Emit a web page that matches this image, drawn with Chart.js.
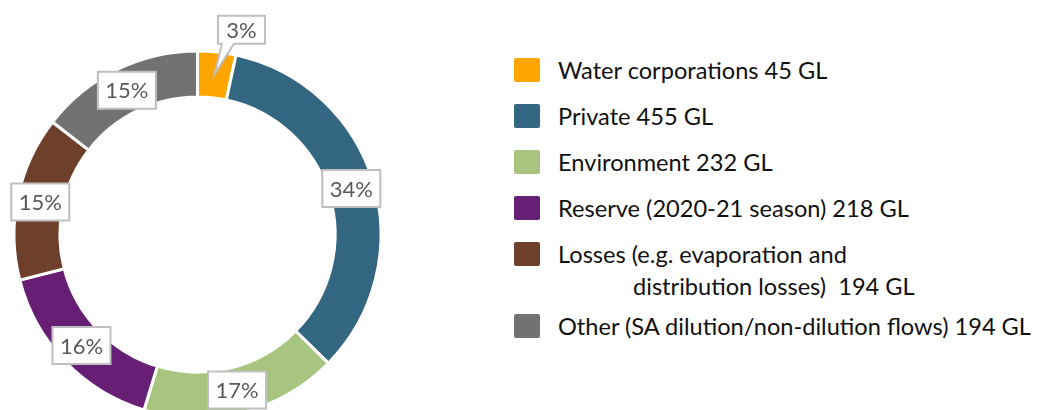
<!DOCTYPE html>
<html>
<head>
<meta charset="utf-8">
<script src="https://cdn.jsdelivr.net/npm/chart.js@4/dist/chart.umd.min.js"></script>
<style>
  html, body { margin: 0; padding: 0; background: #fff; overflow: hidden; width: 1053px; height: 410px; }
  #wrap { position: absolute; left: 0; top: 0; width: 400px; height: 424px; }
  #legend { position: absolute; left: 514px; top: 58px; font-family: Lato, sans-serif; font-size: 23.6px; color: #111; }
  .row { position: relative; height: 46px; }
  .box { position: absolute; left: 0; top: 0; width: 26px; height: 24px; border-radius: 2px; }
  .txt { position: absolute; left: 44px; top: -4px; line-height: 32px; white-space: pre; }
  .indent { padding-left: 75px; }
</style>
</head>
<body>
<div id="wrap"><canvas id="myChart"></canvas></div>
<div id="legend"></div>
<script>
var names = ["Water corporations", "Private", "Environment", "Reserve (2020-21 season)",
  "Losses (e.g. evaporation and\ndistribution losses) ", "Other (SA dilution/non-dilution flows)"];
var volumes = [45, 455, 232, 218, 194, 194];
var pctText = ["3%", "34%", "17%", "16%", "15%", "15%"];
var colours = ["#FFA500", "#336680", "#A9C47F", "#661F75", "#6E3F2A", "#727272"];

var total = volumes.reduce(function (a, b) { return a + b; }, 0);

// legend
var leg = document.getElementById("legend");
for (var i = 0; i < names.length; i++) {
    var lines = (names[i] + " " + volumes[i] + " GL").split("\n");
    var row = document.createElement("div");
    row.className = "row";
    if (lines.length > 1) row.style.height = (46 + 26 * (lines.length - 1)) + "px";
    var sq = document.createElement("div");
    sq.className = "box";
    sq.style.background = colours[i];
    row.appendChild(sq);
    var t = document.createElement("div");
    t.className = "txt";
    for (var j = 0; j < lines.length; j++) {
        var ln = document.createElement("div");
        ln.textContent = lines[j];
        if (j > 0) ln.className = "indent";
        t.appendChild(ln);
    }
    row.appendChild(t);
    leg.appendChild(row);
}

// percentage boxes on the ring
var pctLabels = {
    id: "pctLabels",
    afterDatasetsDraw: function (chart) {
        var ctx = chart.ctx;
        var arcs = chart.getDatasetMeta(0).data;
        ctx.save();
        ctx.font = "22px Lato, sans-serif";
        ctx.textAlign = "center";
        ctx.textBaseline = "middle";
        arcs.forEach(function (arc, i) {
            var p = arc.getProps(["x", "y", "startAngle", "endAngle", "innerRadius", "outerRadius"], true);
            var text = pctText[i];
            var mid = (p.startAngle + p.endAngle) / 2;
            var rMid = (p.innerRadius + p.outerRadius) / 2;
            var small = volumes[i] / total < 0.05;
            var w = small ? 47 : 58, h = small ? 28 : 37;
            var cx, cy;
            ctx.beginPath();
            if (small) {
                var r = p.outerRadius + 26;
                cx = p.x + Math.cos(p.endAngle) * r;
                cy = p.y + Math.sin(p.endAngle) * r;
                var tipX = p.x + Math.cos(mid) * rMid;
                var tipY = p.y + Math.sin(mid) * rMid;
                var l = cx - w / 2, tp = cy - h / 2, b = cy + h / 2, rt = cx + w / 2;
                ctx.moveTo(l, tp);
                ctx.lineTo(rt, tp);
                ctx.lineTo(rt, b);
                ctx.lineTo(l + 16, b);
                ctx.lineTo(tipX, tipY);
                ctx.lineTo(l + 4, b);
                ctx.lineTo(l, b);
                ctx.closePath();
            } else {
                cx = p.x + Math.cos(mid) * rMid;
                cy = p.y + Math.sin(mid) * rMid;
                ctx.rect(cx - w / 2, cy - h / 2, w, h);
            }
            ctx.fillStyle = "#fff";
            ctx.fill();
            ctx.lineWidth = 2;
            ctx.strokeStyle = "#BFBFBF";
            ctx.stroke();
            ctx.fillStyle = "#595959";
            ctx.fillText(text, cx, cy + 1);
        });
        ctx.restore();
    }
};

var ctx = document.getElementById("myChart").getContext("2d");
var chart = new Chart(ctx, {
    type: "doughnut",
    data: {
        labels: names,
        datasets: [{
            data: volumes,
            backgroundColor: colours,
            borderColor: "#fff",
            borderWidth: 3
        }]
    },
    options: {
        responsive: true,
        maintainAspectRatio: false,
        animation: false,
        cutout: "75%",
        layout: { padding: { left: 12.5, right: 17.5, top: 49.5, bottom: 4.5 } },
        plugins: {
            legend: { display: false },
            tooltip: { enabled: false }
        }
    },
    plugins: [pctLabels]
});
</script>
</body>
</html>
